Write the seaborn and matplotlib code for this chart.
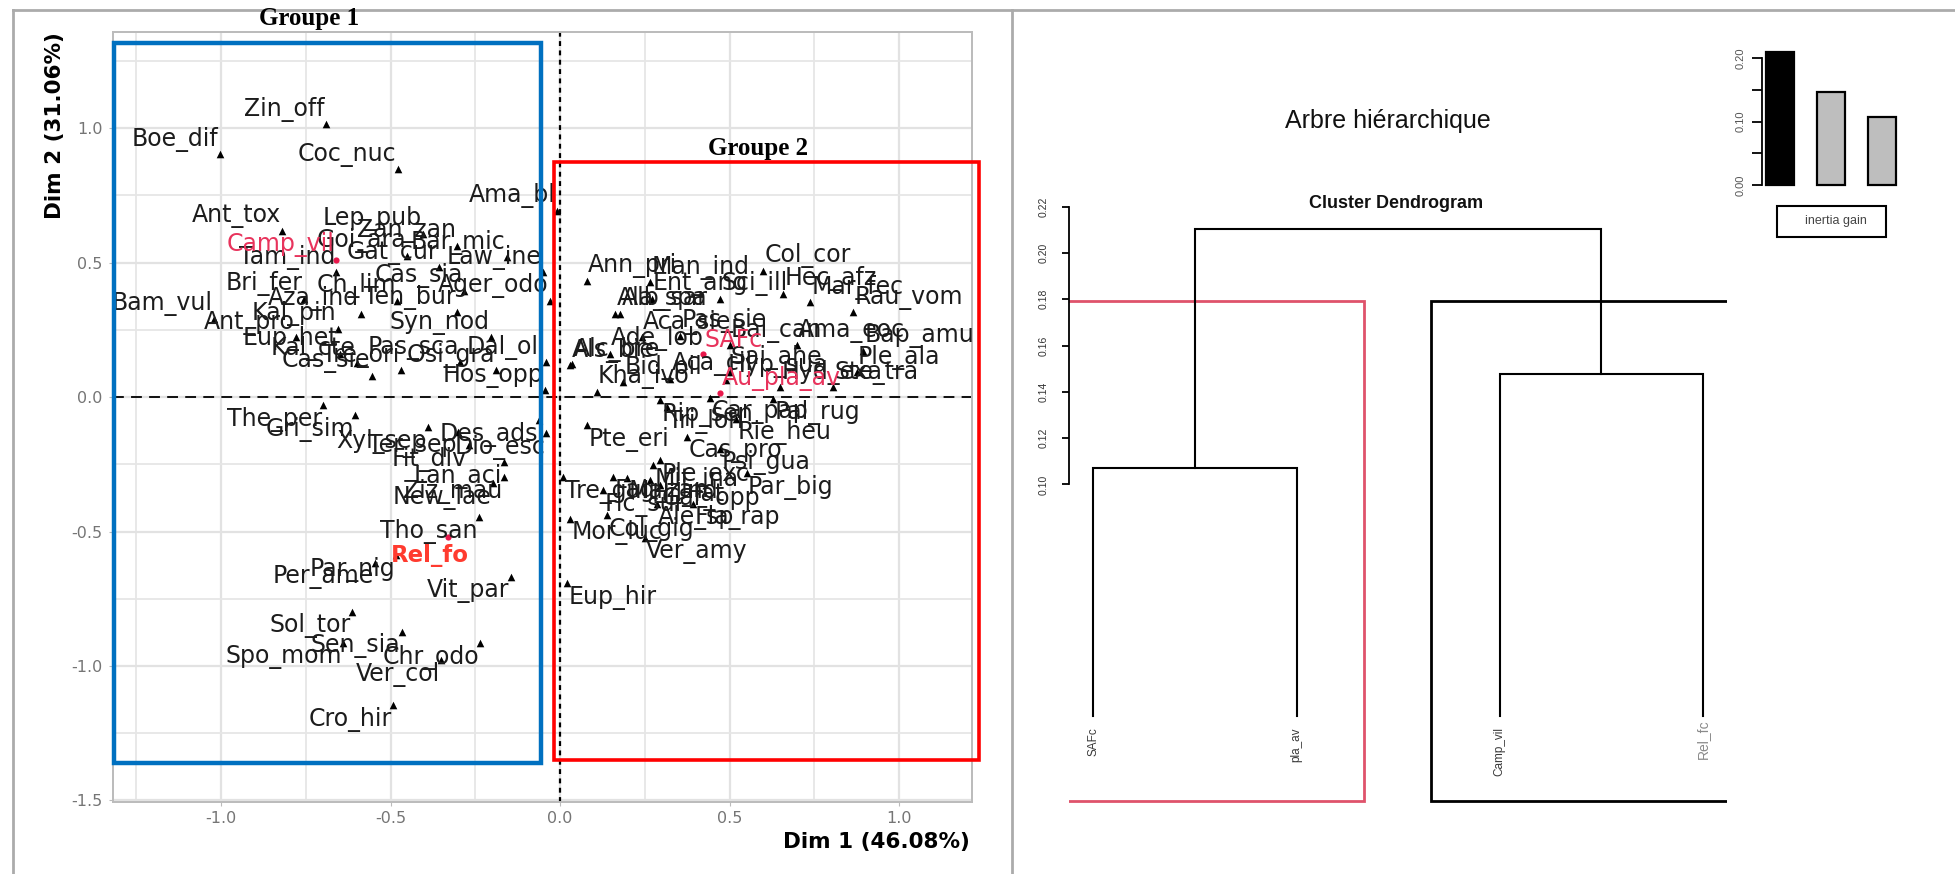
import numpy as np
import pandas as pd
import matplotlib
matplotlib.use("Agg")
import matplotlib.pyplot as plt
import seaborn as sns
from matplotlib.patches import Rectangle
from matplotlib.lines import Line2D
from matplotlib.transforms import offset_copy

# ---------------- data ----------------
species = ["Zin_off", "Boe_dif", "Coc_nuc", "Ama_bl", "Ant_tox", "Lep_pub", "Zan_zan", "Goi_ara",
           "Bar_mic", "Gat_cur", "Tam_ind", "Law_ine", "Cas_sia", "Ch_lim", "Ager_odo", "Bri_fer",
           "Aza_ind", "Ten_bur", "Bam_vul", "Kal_pin", "Ant_pro", "Syn_nod", "Eup_het", "Kal_cte",
           "Cas_sie", "Pas_sca", "Dal_oli", "Tre_ori", "Osi_gra", "Hos_opp",
           "The_per", "Gri_sim", "Ter_sep", "Xyl_sep", "Des_ads", "Dio_esc", "Fit_div", "Lan_aci",
           "Ziz_mau", "New_lae", "Tho_san", "Par_nig", "Per_ame", "Vit_par", "Sol_tor", "Sen_sia",
           "Spo_mom", "Chr_odo", "Ver_col", "Cro_hir",
           "Ann_pri", "Man_ind", "Col_cor", "Ent_ang", "Sci_ill", "Hec_afz", "Mar_fec", "Rau_vom",
           "Ala_spa", "Alb_sar", "Aca_sie", "Pas_sie", "Bal_can", "Ama_eoc", "Bap_amu", "Ade_lob",
           "Als_bie", "Alc_bre", "Sai_ahe", "Ple_ala", "Bid_pil", "Aca_cil", "Hyp_sua", "Hyd_exa",
           "Ste_tra", "Kha_ivo",
           "Car_pap", "Pal_rug", "Rip_sen", "Tri_lon", "Rie_heu", "Pte_eri", "Cas_pro", "Psi_gua",
           "Ple_exc", "Mit_ina", "Par_big", "Tre_gui", "Fag_zan", "Mal_ind", "Hil_lat", "Gar_opp",
           "Fic_sur", "Ale_sp", "Fla_rap", "Col_gig", "Mor_luc", "Ver_amy", "Eup_hir"]
dim1 = [-0.691, -1.004, -0.478, -0.009, -0.820, -0.404, -0.304, -0.450,
        -0.156, -0.356, -0.660, -0.050, -0.283, -0.480, -0.030, -0.756,
        -0.588, -0.304, -1.020, -0.656, -0.780, -0.203, -0.650, -0.600,
        -0.556, -0.294, -0.040, -0.470, -0.188, -0.045,
        -0.698, -0.604, -0.300, -0.390, -0.061, -0.040, -0.270, -0.166,
        -0.166, -0.198, -0.240, -0.483, -0.546, -0.145, -0.614, -0.467,
        -0.640, -0.235, -0.350, -0.493,
        0.079, 0.265, 0.600, 0.270, 0.472, 0.658, 0.737, 0.864,
        0.162, 0.177, 0.241, 0.354, 0.500, 0.698, 0.894, 0.147,
        0.030, 0.036, 0.500, 0.875, 0.187, 0.325, 0.490, 0.650,
        0.806, 0.108,
        0.442, 0.629, 0.295, 0.315, 0.520, 0.079, 0.374, 0.472,
        0.295, 0.275, 0.550, 0.010, 0.157, 0.197, 0.265, 0.295,
        0.128, 0.285, 0.393, 0.138, 0.030, 0.250, 0.020]
dim2 = [1.015, 0.904, 0.848, 0.693, 0.619, 0.608, 0.563, 0.526,
        0.520, 0.483, 0.464, 0.464, 0.396, 0.359, 0.359, 0.365,
        0.310, 0.315, 0.292, 0.255, 0.223, 0.223, 0.162, 0.125,
        0.080, 0.130, 0.130, 0.099, 0.099, 0.025,
        -0.031, -0.068, -0.130, -0.111, -0.087, -0.135, -0.180, -0.241,
        -0.297, -0.320, -0.446, -0.588, -0.618, -0.668, -0.798, -0.873,
        -0.916, -0.916, -0.978, -1.145,
        0.433, 0.427, 0.470, 0.365, 0.365, 0.384, 0.353, 0.316,
        0.310, 0.310, 0.223, 0.229, 0.192, 0.192, 0.173, 0.161,
        0.118, 0.122, 0.093, 0.093, 0.056, 0.069, 0.063, 0.037,
        0.037, 0.019,
        -0.005, -0.006, -0.012, -0.037, -0.080, -0.105, -0.149, -0.192,
        -0.235, -0.254, -0.284, -0.297, -0.297, -0.300, -0.310, -0.328,
        -0.346, -0.396, -0.396, -0.440, -0.452, -0.526, -0.693]

sup_names = ["Camp_vil", "SAFc", "Au_pla_av", "Rel_fo"]
sup_dim1 = [-0.660, 0.423, 0.472, -0.330]
sup_dim2 = [0.510, 0.159, 0.014, -0.522]

x_title = "Dim 1 (46.08%)"
y_title = "Dim 2 (31.06%)"
x_ticks = [-1.0, -0.5, 0.0, 0.5, 1.0]
y_ticks = [-1.5, -1.0, -0.5, 0.0, 0.5, 1.0]
group_labels = ["Groupe 1", "Groupe 2"]

leaf_labels = ["SAFc", "pla_av", "Camp_vil", "Rel_fc"]
merge = [(-1, -2), (-3, -4), (1, 2)]          # R hclust style merge matrix
merge_heights = [0.1072, 0.1478, 0.2104]
clusters = [1, 1, 2, 2]
dendro_ticks = [0.10, 0.12, 0.14, 0.16, 0.18, 0.20, 0.22]
inertia_ticks = [0.00, 0.05, 0.10, 0.15, 0.20]
inertia_tick_labels = ["0.00", "", "0.10", "", "0.20"]

# ---------------- figure ----------------
W, H = 1955, 874
plt.rcParams["font.family"] = ["DejaVu Sans"]
plt.rcParams["axes.unicode_minus"] = False
fig = plt.figure(figsize=(W / 100, H / 100), dpi=100)
fig.patch.set_facecolor("white")


def fx(px):
    return px / W


def fy(py):
    return 1 - py / H


# ======== left: CA biplot (ggplot look) ========
L, R, T, B = 112.5, 972.0, 31.7, 801.7
ax = fig.add_axes([fx(L), fy(B), (R - L) / W, (B - T) / H])
ax.set_xlim(-1.32, 1.215)
ax.set_ylim(-1.505, 1.359)
ax.set_facecolor("white")
ax.set_xticks(x_ticks)
ax.set_yticks(y_ticks)
ax.set_xticks([-1.25, -0.75, -0.25, 0.25, 0.75], minor=True)
ax.set_yticks([-1.25, -0.75, -0.25, 0.25, 0.75, 1.25], minor=True)
ax.set_xticklabels([f"{t:.1f}" for t in x_ticks])
ax.set_yticklabels([f"{t:.1f}" for t in y_ticks])
ax.grid(which="major", color="#E2E2E2", lw=1.6, zorder=0)
ax.grid(which="minor", color="#E6E6E6", lw=1.3, zorder=0)
ax.set_axisbelow(True)
for s in ax.spines.values():
    s.set_color("#BBBBBB")
    s.set_linewidth(1.4)
ax.tick_params(which="major", length=3, color="#BBBBBB", labelsize=11.5,
               labelcolor="#757575", pad=4)
ax.tick_params(which="minor", length=0)
ax.axhline(0, color="black", lw=1.3, ls=(0, (6, 4)), zorder=1)
ax.axvline(0, color="black", lw=1.6, ls=(0, (2.2, 2.0)), zorder=1)

df_sp = pd.DataFrame({"name": species, "dim1": dim1, "dim2": dim2})
sns.scatterplot(data=df_sp, x="dim1", y="dim2", marker="^", color="black", s=30,
                linewidth=0, ax=ax, zorder=3, legend=False)
df_sup = pd.DataFrame({"name": sup_names, "dim1": sup_dim1, "dim2": sup_dim2})
sns.scatterplot(data=df_sup, x="dim1", y="dim2", marker="o", color="#E8174B", s=20,
                linewidth=0, ax=ax, zorder=3, legend=False)
ax.set_xlabel("")
ax.set_ylabel("")

LABEL_SIZE = 17


def place_label(name, x, y, color, weight="normal"):
    ha = "right" if x < 0 else "left"
    va = "bottom" if y > 0 else "top"
    dx = -1.0 if x < 0 else 1.0
    dy = 1.8 if y > 0 else -1.2
    tr = offset_copy(ax.transData, fig=fig, x=dx, y=dy, units="points")
    ax.text(x, y, name, transform=tr, ha=ha, va=va, fontsize=LABEL_SIZE, color=color,
            fontweight=weight, clip_on=True, zorder=4)


for n, x, y in zip(species, dim1, dim2):
    place_label(n, x, y, "#1C1C1C")
for n, x, y in zip(sup_names, sup_dim1, sup_dim2):
    if n == "Rel_fo":
        tr = offset_copy(ax.transData, fig=fig, x=-41, y=-5, units="points")
        ax.text(x, y, n, transform=tr, ha="left", va="top", fontsize=LABEL_SIZE - 0.5,
                color="#FF3B2F", fontweight="bold", zorder=5, clip_on=True)
    else:
        place_label(n, x, y, "#E8335C")

fig.text(fx(970), fy(842), x_title, ha="right", va="center", fontsize=15.5,
         fontweight="bold", color="black")
fig.text(fx(54.6), fy(32), y_title, ha="center", va="top", rotation=90, fontsize=15.5,
         fontweight="bold", color="black")

# group boxes and titles
fig.add_artist(Rectangle((fx(113.6), fy(763)), (541 - 113.6) / W, (763 - 43.3) / H,
                         transform=fig.transFigure, fill=False, ec="#0070C0", lw=3.2, zorder=6))
fig.add_artist(Rectangle((fx(554), fy(760)), (979 - 554) / W, (760 - 161.7) / H,
                         transform=fig.transFigure, fill=False, ec="#FF0000", lw=2.6, zorder=6))
fig.text(fx(309.5), fy(19), group_labels[0], ha="center", va="center", fontsize=18,
         fontweight="bold", family="Liberation Serif", color="black")
fig.text(fx(758), fy(148), group_labels[1], ha="center", va="center", fontsize=18,
         fontweight="bold", family="Liberation Serif", color="black")

# ======== right: dendrogram (R base look) ========
n_leaf = len(leaf_labels)
pad = 0.04 * (n_leaf - 1)
ybot = -0.0385
axd = fig.add_axes([fx(1068.5), fy(805), (1727.4 - 1068.5) / W, (805 - 202) / H])
axd.set_xlim(1 - pad - 0.003, n_leaf + pad)
axd.set_ylim(ybot, 0.222)
axd.set_facecolor("white")
for k in ["top", "right", "bottom"]:
    axd.spines[k].set_visible(False)
axd.spines["left"].set_bounds(dendro_ticks[0], dendro_ticks[-1])
axd.spines["left"].set_linewidth(1.3)
axd.set_xticks([])
axd.set_yticks(dendro_ticks)
axd.set_yticklabels([f"{t:.2f}" for t in dendro_ticks], rotation=90, va="center",
                    fontsize=7.5, family="Liberation Sans", color="#333333")
axd.tick_params(axis="y", length=5, width=1.3, pad=9)

# positions of nodes
node_x, node_h = {}, {}
for i in range(n_leaf):
    node_x[-(i + 1)] = i + 1
    node_h[-(i + 1)] = 0.0
for k, ((a, b), h) in enumerate(zip(merge, merge_heights), start=1):
    xa, xb = node_x[a], node_x[b]
    ha_, hb_ = node_h[a], node_h[b]
    axd.plot([xa, xa, xb, xb], [ha_, h, h, hb_], color="black", lw=1.5,
             solid_joinstyle="miter", zorder=3)
    node_x[k] = (xa + xb) / 2
    node_h[k] = h

for i, lab in enumerate(leaf_labels):
    if lab == "Rel_fc":
        axd.text(i + 1, -0.0015, lab, rotation=90, ha="center", va="top", fontsize=10,
                 color="#8A8A8A", family="Liberation Sans")
    else:
        axd.text(i + 1, -0.005, lab, rotation=90, ha="center", va="top", fontsize=8.5,
                 color="#3A3A3A", family="Liberation Sans")

# cluster rectangles (rect.hclust)
sorted_h = sorted(merge_heights, reverse=True)
cut = np.mean(sorted_h[:2])
counts = [clusters.count(c) for c in sorted(set(clusters))]
m = np.concatenate([[0], np.cumsum(counts)])
rect_cols = ["#DF536B", "black"]
for j in range(len(counts)):
    x0 = m[j] + 0.66
    x1 = m[j + 1] + 0.33
    axd.add_patch(Rectangle((x0, ybot + 0.0018), x1 - x0, cut - ybot - 0.0018, fill=False,
                            ec=rect_cols[j], lw=2.0, clip_on=True, zorder=2))

fig.text(fx(1388), fy(121), "Arbre hiérarchique", ha="center", va="center", fontsize=18,
         family="Liberation Sans", color="#111111")
fig.text(fx(1396), fy(204), "Cluster Dendrogram", ha="center", va="center", fontsize=13,
         fontweight="bold", family="Liberation Sans", color="#111111")

# ======== inset: inertia gain ========
gains = sorted_h
y0px, ytop = 185.0, 49.0
scale = (y0px - ytop) / 0.215
ib = -0.003
axi = fig.add_axes([fx(1762), fy(y0px - ib * scale), 138 / W, (y0px - ib * scale - ytop) / H])
df_g = pd.DataFrame({"k": ["1", "2", "3"], "gain": gains})
sns.barplot(data=df_g, x="k", y="gain", hue="k", palette=["black", "#BEBEBE", "#BEBEBE"],
            width=0.55, edgecolor="black", linewidth=1.6, legend=False, ax=axi)
axi.set_xlim(-0.353, 2.353)
axi.set_ylim(ib, 0.215)
axi.set_facecolor("none")
axi.set_xlabel("")
axi.set_ylabel("")
for k in ["top", "right", "bottom"]:
    axi.spines[k].set_visible(False)
axi.spines["left"].set_bounds(inertia_ticks[0], inertia_ticks[-1])
axi.spines["left"].set_linewidth(1.3)
axi.set_xticks([])
axi.set_yticks(inertia_ticks)
axi.set_yticklabels(inertia_tick_labels, rotation=90, va="center", fontsize=8,
                    family="Liberation Sans", color="#555555")
axi.tick_params(axis="y", length=7, width=1.3, pad=5)

fig.add_artist(Rectangle((fx(1777), fy(237)), (1886 - 1777) / W, (237 - 206) / H,
                         transform=fig.transFigure, fill=False, ec="black", lw=1.5))
fig.text(fx(1836), fy(221.5), "inertia gain", ha="center", va="center", fontsize=9,
         family="Liberation Sans", color="#444444")

# ======== frame lines ========
fcol = "#ABABAB"
fig.add_artist(Line2D([fx(12.5), 1.0], [fy(10), fy(10)], transform=fig.transFigure,
                      color=fcol, lw=2))
fig.add_artist(Line2D([fx(12.5), fx(12.5)], [fy(10), 0.0], transform=fig.transFigure,
                      color=fcol, lw=2))
fig.add_artist(Line2D([fx(1012), fx(1012)], [fy(10), 0.0], transform=fig.transFigure,
                      color=fcol, lw=2))

fig.savefig("out.png", dpi=100, facecolor="white")
